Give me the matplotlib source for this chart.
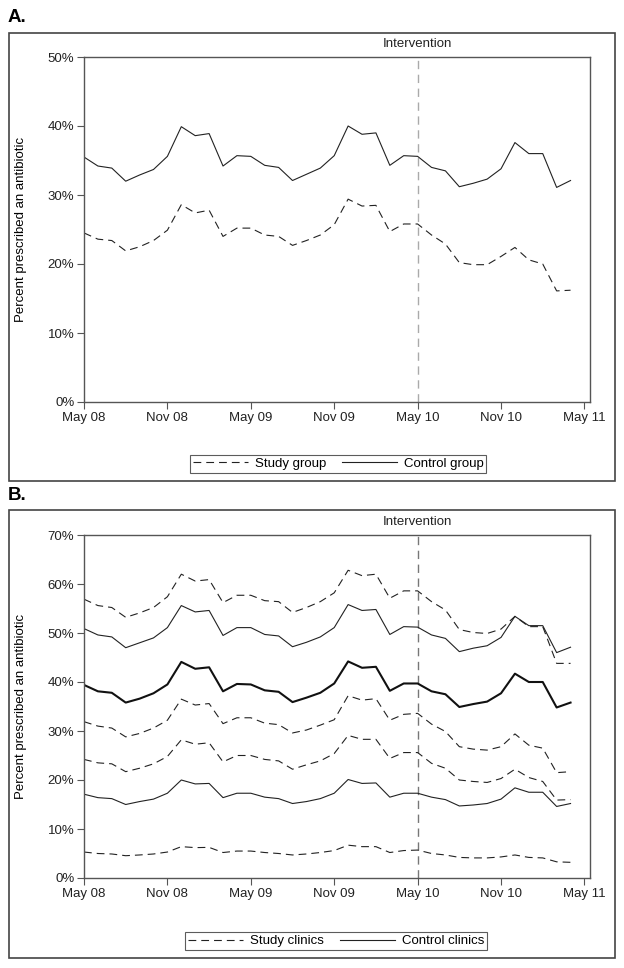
import matplotlib
matplotlib.use("Agg")
import matplotlib.pyplot as plt
from matplotlib.patches import Rectangle
from matplotlib.ticker import FuncFormatter

plt.rcParams['font.family'] = ['Liberation Sans', 'DejaVu Sans']

# months since May 2008
months = list(range(36))
tick_months = [0, 6, 12, 18, 24, 30, 36]
tick_labels = ["May 08", "Nov 08", "May 09", "Nov 09", "May 10", "Nov 10", "May 11"]
intervention_month = 24

# panel A
study_a = [24.5, 23.6, 23.4, 21.9, 22.5, 23.4, 24.9, 28.6, 27.4, 27.8, 24.0, 25.2,
           25.2, 24.2, 24.0, 22.7, 23.4, 24.2, 25.7, 29.4, 28.4, 28.5, 24.7, 25.8,
           25.8, 24.2, 22.9, 20.2, 19.9, 19.9, 21.1, 22.4, 20.6, 20.0, 16.1, 16.2]
control_a = [35.5, 34.2, 33.9, 32.0, 32.9, 33.7, 35.6, 39.9, 38.6, 38.9, 34.2, 35.7,
             35.6, 34.3, 34.0, 32.1, 33.0, 33.9, 35.7, 40.0, 38.8, 39.0, 34.3, 35.7,
             35.6, 34.0, 33.5, 31.2, 31.7, 32.3, 33.8, 37.6, 36.0, 36.0, 31.1, 32.1]

# panel B, study clinics (dashed)
study_b1 = [56.9, 55.6, 55.2, 53.2, 54.1, 55.2, 57.4, 62.0, 60.6, 60.9, 56.2, 57.7,
            57.7, 56.6, 56.4, 54.2, 55.2, 56.4, 58.2, 62.8, 61.7, 62.0, 57.1, 58.6,
            58.6, 56.4, 54.7, 50.7, 50.1, 49.9, 50.8, 53.4, 51.3, 51.3, 43.8, 43.8]
study_b2 = [31.9, 31.0, 30.6, 28.8, 29.5, 30.6, 32.2, 36.5, 35.3, 35.6, 31.5, 32.7,
            32.7, 31.6, 31.3, 29.6, 30.2, 31.2, 32.3, 37.2, 36.3, 36.6, 32.2, 33.4,
            33.6, 31.4, 29.9, 26.8, 26.3, 26.1, 26.8, 29.4, 27.1, 26.5, 21.5, 21.7]
study_b3 = [24.2, 23.5, 23.3, 21.7, 22.4, 23.3, 24.8, 28.2, 27.3, 27.6, 23.7, 25.0,
            25.0, 24.2, 23.9, 22.2, 23.1, 23.9, 25.4, 29.1, 28.3, 28.3, 24.4, 25.6,
            25.6, 23.4, 22.4, 20.0, 19.7, 19.5, 20.3, 22.2, 20.5, 19.7, 15.9, 16.0]
study_b4 = [5.3, 5.0, 4.9, 4.55, 4.7, 4.9, 5.3, 6.4, 6.2, 6.25, 5.2, 5.5,
            5.5, 5.2, 5.0, 4.7, 4.9, 5.2, 5.6, 6.7, 6.4, 6.4, 5.2, 5.6,
            5.7, 5.0, 4.7, 4.2, 4.1, 4.1, 4.3, 4.7, 4.2, 4.1, 3.3, 3.2]

# panel B, control clinics (solid)
control_b1 = [50.9, 49.6, 49.2, 47.0, 48.0, 49.0, 51.1, 55.6, 54.3, 54.6, 49.5, 51.1,
              51.1, 49.7, 49.4, 47.2, 48.1, 49.2, 51.1, 55.8, 54.6, 54.8, 49.7, 51.3,
              51.2, 49.6, 48.9, 46.2, 46.9, 47.4, 49.1, 53.4, 51.5, 51.5, 46.0, 47.1]
control_b2 = [39.4, 38.1, 37.8, 35.8, 36.6, 37.7, 39.5, 44.1, 42.7, 43.0, 38.1, 39.6,
              39.5, 38.3, 38.0, 35.9, 36.8, 37.8, 39.7, 44.2, 42.9, 43.1, 38.2, 39.7,
              39.7, 38.1, 37.5, 34.9, 35.5, 36.0, 37.7, 41.7, 40.0, 40.0, 34.8, 35.8]
control_b3 = [17.1, 16.4, 16.2, 15.0, 15.6, 16.1, 17.3, 20.0, 19.2, 19.3, 16.4, 17.3,
              17.3, 16.5, 16.2, 15.2, 15.6, 16.2, 17.3, 20.1, 19.3, 19.4, 16.5, 17.3,
              17.3, 16.5, 16.0, 14.7, 14.9, 15.2, 16.1, 18.4, 17.5, 17.5, 14.6, 15.2]

W, H = 624, 968
DASH = (0, (7, 4.5))
LINE = "#222222"
FRAME = "#555555"


def px_rect(l, t, r, b):
    return [l / W, 1 - b / H, (r - l) / W, (b - t) / H]


fig = plt.figure(figsize=(W / 100, H / 100), dpi=100)


def panel(letter, box_top, box_bot, ax_top, ax_bot, ymax, vcolor):
    fig.patches.append(Rectangle((9 / W, 1 - box_bot / H), 606 / W, (box_bot - box_top) / H,
                                 transform=fig.transFigure, fill=False,
                                 edgecolor="#444444", linewidth=1.2))
    fig.text(8 / W, 1 - (box_top - 15) / H, letter, fontsize=13.5, fontweight="bold",
             ha="left", va="center")
    ax = fig.add_axes(px_rect(84, ax_top, 590, ax_bot))
    ax.set_xlim(0, 36.4)
    ax.set_ylim(0, ymax)
    ax.set_xticks(tick_months)
    ax.set_xticklabels(tick_labels)
    ax.set_yticks(range(0, ymax + 1, 10))
    ax.yaxis.set_major_formatter(FuncFormatter(lambda v, p: "%d%%" % v))
    ax.tick_params(direction="out", length=5, width=0.8, color=FRAME,
                   labelsize=9.5, labelcolor="#222222", pad=2)
    for s in ax.spines.values():
        s.set_color(FRAME)
        s.set_linewidth(1.0)
    ax.set_ylabel("Percent prescribed an antibiotic", fontsize=9.5)
    ax.yaxis.set_label_coords(-57 / 506, 0.5)
    ax.axvline(intervention_month, color=vcolor, linewidth=1.0, linestyle=(0, (6, 4)), zorder=1)
    ax.annotate("Intervention", xy=(intervention_month, 1), xycoords=("data", "axes fraction"),
                xytext=(0, 9.5), textcoords="offset points", ha="center", va="center",
                fontsize=9.5, color="#222222")
    return ax


def add_legend(ax, handles, cx, cy):
    leg = ax.legend(handles=handles, loc="center", bbox_to_anchor=(cx / W, 1 - cy / H),
                    bbox_transform=fig.transFigure, ncol=2, frameon=True, fancybox=False,
                    edgecolor="#333333", fontsize=9.5, borderpad=0.2, handlelength=4.2,
                    handletextpad=0.5, columnspacing=1.2, borderaxespad=0)
    leg.get_frame().set_linewidth(0.8)


ax_a = panel("A.", 33, 481, 57, 402, 50, "#aaaaaa")
la1, = ax_a.plot(months, study_a, color=LINE, lw=0.8, linestyle=DASH, label="Study group")
la2, = ax_a.plot(months, control_a, color=LINE, lw=0.8, label="Control group")
add_legend(ax_a, [la1, la2], 338, 464)

ax_b = panel("B.", 510, 958, 535, 878, 70, "#777777")
for s in [study_b1, study_b2, study_b3, study_b4]:
    ax_b.plot(months, s, color=LINE, lw=0.8, linestyle=DASH)
ax_b.plot(months, control_b1, color=LINE, lw=0.8)
ax_b.plot(months, control_b2, color="#111111", lw=1.5)
ax_b.plot(months, control_b3, color=LINE, lw=0.8)
h1, = ax_b.plot([], [], color=LINE, lw=0.8, linestyle=DASH, label="Study clinics")
h2, = ax_b.plot([], [], color=LINE, lw=0.8, label="Control clinics")
add_legend(ax_b, [h1, h2], 336, 941)

fig.savefig("out.png", dpi=100)
